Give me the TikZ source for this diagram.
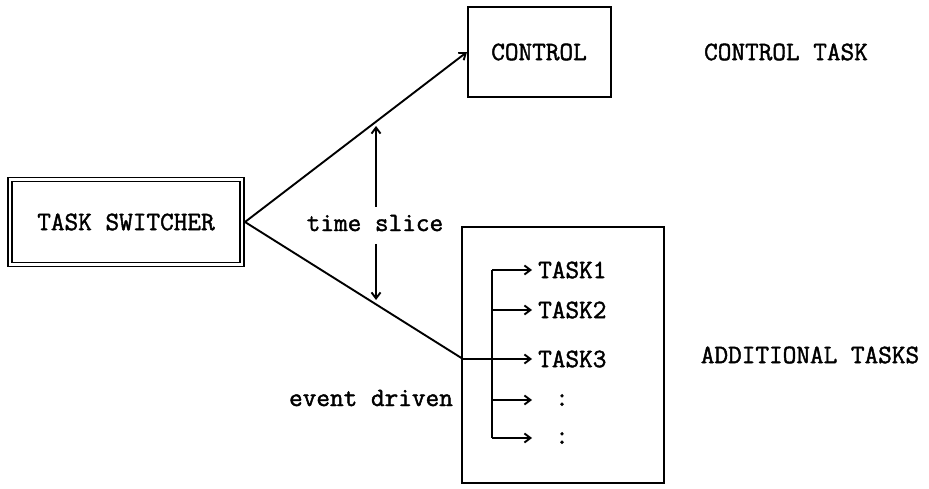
\documentclass[tikz,border=0pt]{standalone}
\usepackage{fontspec}
\newfontfamily\typew[FakeBold=1.6]{Latin Modern Mono}
\usetikzlibrary{arrows.meta}
\begin{document}
\begin{tikzpicture}[x=1pt,y=-1pt,
  lbl/.style={font=\fontsize{26.5}{28}\selectfont\typew, inner sep=0pt},
  boxnode/.style={draw, line width=2pt, inner sep=0pt},
  conn/.style={line width=1.9pt},
  arr/.style={conn, -{Straight Barb[length=6pt,width=9pt,line width=1.9pt]}}]
\useasboundingbox (0,0) rectangle (929,489);
\node[boxnode, double, double distance=2.5pt, line width=1.3pt, minimum width=232pt, minimum height=85pt] (ts) at (126,222) {};
\node[lbl] (tstext) at (126,222) {TASK SWITCHER};
\node[boxnode, minimum width=143pt, minimum height=90pt] (ctrl) at (539.5,52) {};
\node[lbl] (ctrltext) at (539,52) {CONTROL};
\node[lbl] (ctrltask) at (786,52) {CONTROL TASK};
\node[boxnode, minimum width=202pt, minimum height=256pt] (big) at (563,355) {};
\coordinate (tsE) at (245,222);
\coordinate (j) at (463,359);
\coordinate (vtop) at (492,270);
\coordinate (vbot) at (492,438);
\node[lbl, anchor=west] (t1) at (538,270) {TASK1};
\node[lbl, anchor=west] (t2) at (538,310) {TASK2};
\node[lbl, anchor=west] (t3) at (538,359) {TASK3};
\node[lbl] (d1) at (562,400) {:};
\node[lbl] (d2) at (562,438) {:};
\node[lbl] (ts1) at (375,223) {time slice};
\node[lbl] (ed) at (371,398) {event driven};
\node[lbl] (add) at (810,355) {ADDITIONAL TASKS};
\draw[arr] (tsE) -- (ctrl.west);
\draw[conn] (tsE) -- (j);
\draw[arr, shorten >=6pt] (j) -- (t3.west);
\draw[conn] (vtop) -- (vbot);
\draw[arr, shorten >=6pt] (vtop) -- (t1.west);
\draw[arr, shorten >=6pt] (492,310) -- (t2.west);
\draw[arr] (492,400) -- (532,400);
\draw[arr] (vbot) -- (532,438);
\draw[arr] (376,207) -- (376,126);
\draw[arr] (376,244) -- (376,300);
\end{tikzpicture}
\end{document}
